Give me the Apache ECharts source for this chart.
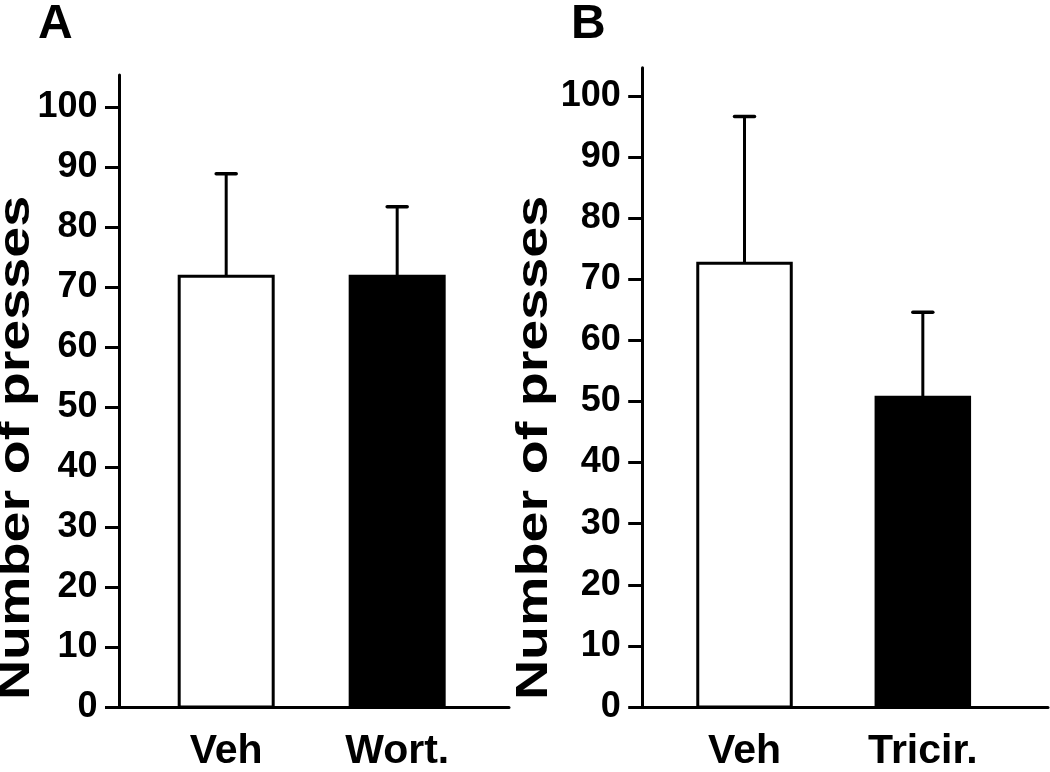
<!DOCTYPE html>
<html>
<head>
<meta charset="utf-8">
<script src="https://cdn.jsdelivr.net/npm/echarts@6/dist/echarts.min.js"></script>
<style>
  html, body { margin: 0; padding: 0; background: #fff; }
  #chart { width: 1050px; height: 772px; }
</style>
</head>
<body>
<div id="chart"></div>
<script>
// panel A
const categoriesA = ["Veh", "Wort."];
const meansA = [71.8, 71.8];
const semA = [17.1, 11.6];
// panel B
const categoriesB = ["Veh", "Tricir."];
const meansB = [72.6, 50.7];
const semB = [24.0, 13.9];
// y ticks, shared
const yTicks = [0, 10, 20, 30, 40, 50, 60, 70, 80, 90, 100];

const FONT = '"Liberation Sans", Arial, sans-serif';
const barFills = ["#ffffff", "#000000"];

// layout of each panel (px and axis ranges)
const panels = [
  { name: "A", cats: categoriesA, means: meansA, sem: semA,
    grid: { left: 119.5, right: 541, top: 75, bottom: 62 },
    xMin: 0.376, xMax: 2.654, yMax: 105.36, barWidth: 94,
    titleLeft: 38, yTitleX: 17 },
  { name: "B", cats: categoriesB, means: meansB, sem: semB,
    grid: { left: 642.7, right: 2, top: 67.7, bottom: 62.5 },
    xMin: 0.429, xMax: 2.702, yMax: 104.6, barWidth: 93.5,
    titleLeft: 571, yTitleX: 535 },
];

function renderBar(params, api) {
  const p = panels[params.seriesIndex];
  const x = api.value(0);
  const mean = api.value(1);
  const err = api.value(2);
  const idx = params.dataIndex;
  const top = api.coord([x, mean]);
  const base = api.coord([x, 0]);
  const errTop = api.coord([x, mean + err]);
  const w = p.barWidth;
  const capW = 20;
  return {
    type: "group",
    children: [
      {
        type: "line",
        shape: { x1: top[0], y1: top[1], x2: errTop[0], y2: errTop[1] },
        style: { stroke: "#000", lineWidth: 3 },
      },
      {
        type: "line",
        shape: { x1: errTop[0] - capW / 2, y1: errTop[1], x2: errTop[0] + capW / 2, y2: errTop[1] },
        style: { stroke: "#000", lineWidth: 3.5, lineCap: "round" },
      },
      {
        type: "rect",
        shape: { x: top[0] - w / 2, y: top[1], width: w, height: base[1] - top[1] },
        style: { fill: barFills[idx], stroke: "#000", lineWidth: 3 },
      },
    ],
  };
}

const chart = echarts.init(document.getElementById("chart"));

const option = {
  backgroundColor: "#fff",
  animation: false,
  title: panels.map((p) => ({
    text: p.name,
    left: p.titleLeft,
    top: 1,
    padding: 0,
    textStyle: { fontSize: 48, fontWeight: "bold", fontFamily: FONT, color: "#000" },
  })),
  grid: panels.map((p) => Object.assign({ containLabel: false }, p.grid)),
  xAxis: panels.map((p, i) => ({
    type: "value",
    gridIndex: i,
    min: p.xMin,
    max: p.xMax,
    axisLine: { onZero: false, lineStyle: { color: "#000", width: 3 } },
    axisTick: { show: false },
    splitLine: { show: false },
    axisLabel: {
      customValues: [1, 2],
      formatter: (v) => p.cats[Math.round(v) - 1],
      margin: 24,
      color: "#000",
      fontSize: 41,
      fontWeight: "bold",
      fontFamily: FONT,
    },
  })),
  yAxis: panels.map((p, i) => ({
    type: "value",
    gridIndex: i,
    min: 0,
    max: p.yMax,
    axisLine: { show: true, onZero: false, lineStyle: { color: "#000", width: 3 } },
    axisTick: { show: true, customValues: yTicks, length: 14.5, lineStyle: { color: "#000", width: 3 } },
    splitLine: { show: false },
    axisLabel: {
      customValues: yTicks,
      margin: 22,
      color: "#000",
      fontSize: 36,
      fontWeight: "bold",
      fontFamily: FONT,
      padding: [0, 0, 10, 0],
    },
  })),
  graphic: panels.map((p) => ({
    type: "text",
    x: p.yTitleX,
    y: 448,
    rotation: Math.PI / 2,
    scaleX: 1.265,
    style: {
      text: "Number of presses",
      fontSize: 44,
      fontWeight: "bold",
      fontFamily: FONT,
      fill: "#000",
      align: "center",
      verticalAlign: "middle",
    },
  })),
  series: panels.map((p, i) => ({
    type: "custom",
    xAxisIndex: i,
    yAxisIndex: i,
    renderItem: renderBar,
    encode: { x: 0, y: 1 },
    data: p.means.map((m, j) => [j + 1, m, p.sem[j]]),
  })),
};

chart.setOption(option);
</script>
</body>
</html>
